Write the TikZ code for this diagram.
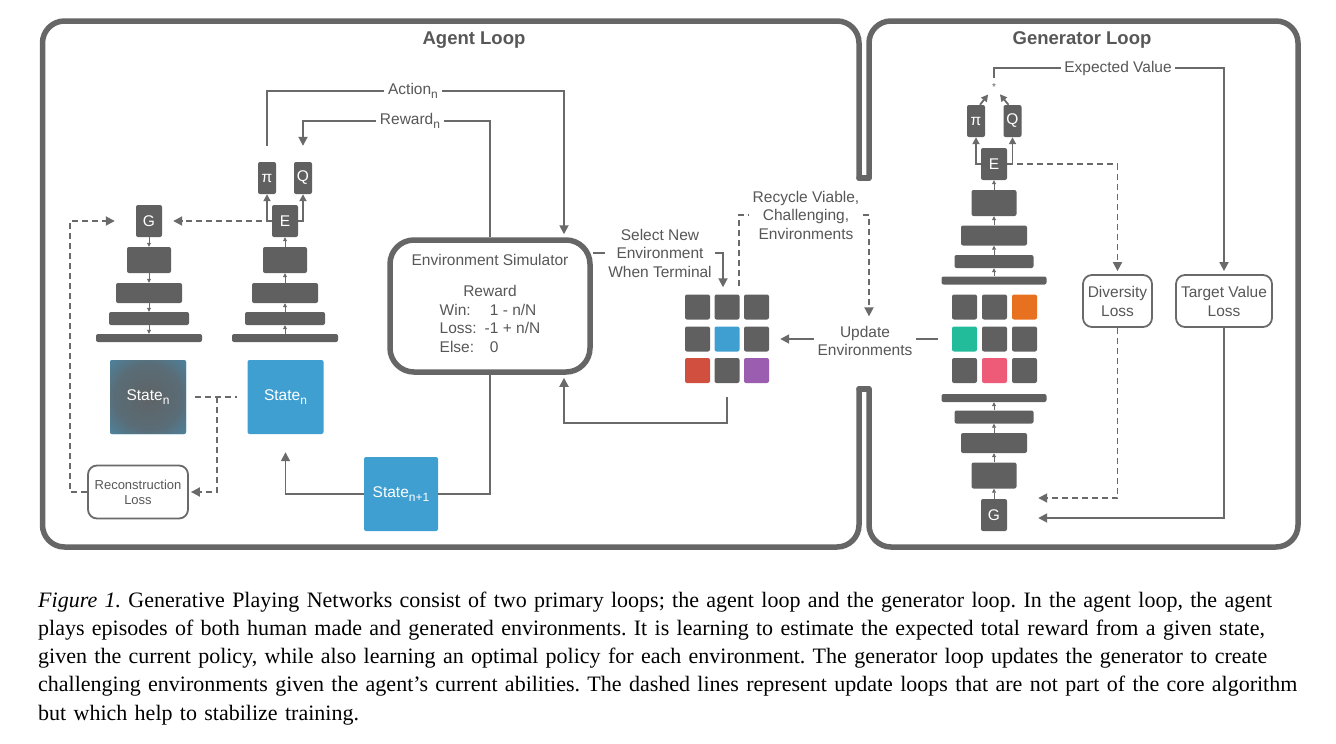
\documentclass[tikz,border=0pt]{standalone}
\usepackage{fontspec}
\setmainfont{Liberation Serif}
\setsansfont{Liberation Sans}
\usetikzlibrary{positioning,arrows.meta}
\definecolor{framegray}{HTML}{666666}
\definecolor{linegray}{HTML}{6A6A6A}
\definecolor{boxgray}{HTML}{606060}
\definecolor{textgray}{HTML}{575757}
\definecolor{stateblue}{HTML}{3F9FD1}
\definecolor{envred}{HTML}{D14F3F}
\definecolor{envpurple}{HTML}{9B5DAF}
\definecolor{envorange}{HTML}{E8711F}
\definecolor{envteal}{HTML}{23BC9B}
\definecolor{envpink}{HTML}{EE5B79}
\pgfdeclareradialshading{noisy}{\pgfpoint{0bp}{0bp}}{color(0bp)=(boxgray!95!stateblue); color(22bp)=(boxgray!80!stateblue); color(36bp)=(boxgray!45!stateblue); color(46bp)=(stateblue); color(50bp)=(stateblue)}
\newcommand{\idx}[1]{\raisebox{-4pt}{\fontsize{12}{12}\selectfont#1}}
\frenchspacing

\begin{document}
\begin{tikzpicture}[x=1pt,y=-1pt,
                  every node/.style={font=\sffamily\fontsize{15.5}{18.5}\selectfont,text=textgray},
                  panel/.style={draw=framegray,line width=5.5pt,rounded corners=22pt,line cap=round},
                  ttl/.style={font=\sffamily\bfseries\fontsize{18.5}{22}\selectfont},
                  blk/.style={fill=boxgray,rounded corners=2pt,inner sep=0pt,text=white},
                  outbox/.style={blk,minimum width=18pt,minimum height=32pt},
                  netbox/.style={blk,minimum width=26pt,minimum height=32pt},
                  cell/.style={blk,minimum size=25pt},
                  stbox/.style={fill=stateblue,rounded corners=2pt,minimum width=76pt,minimum height=74pt,text=white},
                  envbox/.style={draw=framegray,line width=5.5pt,rounded corners=24pt,minimum width=200pt,minimum height=132pt,align=center},
                  loss/.style={draw=linegray,line width=1.8pt,rounded corners=9pt,align=center,inner sep=3pt,font=\sffamily\fontsize{15.5}{19}\selectfont},
                  lbl/.style={fill=white,inner sep=3.5pt,align=center},
                  link/.style={draw=linegray,line width=1.8pt},
                  arr/.style={link,-{Triangle[length=9pt,width=9pt]}},
                  arrs/.style={link,-{Triangle[length=7pt,width=7pt]}},
                  dsh/.style={link,dash pattern=on 6pt off 4pt},
                  darr/.style={dsh,-{Triangle[length=9pt,width=9pt]}},
                  flow/.style={draw=linegray,line width=0.8pt,-{Triangle[length=4pt,width=4pt]}}]
                  \useasboundingbox (0,0) rectangle (1336,744);
                  \draw[panel] (859,178) -- (859,21) -- (42.5,21) -- (42.5,547) -- (859,547) -- (859,389);
                  \draw[panel] (869,178) -- (869,21) -- (1298,21) -- (1298,547) -- (869,547) -- (869,389);
                  \draw[panel] (859,178) -- (869,178);
                  \draw[panel] (859,389) -- (869,389);
                  \node[ttl] (agentTtl) at (474,40) {Agent Loop};
                  \node[ttl] (genTtl) at (1082,40) {Generator Loop};
                  \node[outbox] (piA) at (267,178) {π};
                  \node[outbox] (qA) at (303,178) {Q};
                  \node[netbox] (eA) at (285,221) {E};
                  \node[netbox] (gA) at (149,221) {G};
                  \node[blk,minimum width=44pt,minimum height=26pt] (dA1) at (149,260) {};
                  \node[blk,minimum width=66pt,minimum height=20pt] (dA2) at (149,293) {};
                  \node[blk,minimum width=80pt,minimum height=13pt] (dA3) at (149,318.5) {};
                  \node[blk,minimum width=106pt,minimum height=8pt] (dA4) at (149,338) {};
                  \node[blk,minimum width=44pt,minimum height=26pt] (eA1) at (285,260) {};
                  \node[blk,minimum width=66pt,minimum height=20pt] (eA2) at (285,293) {};
                  \node[blk,minimum width=80pt,minimum height=13pt] (eA3) at (285,318.5) {};
                  \node[blk,minimum width=106pt,minimum height=8pt] (eA4) at (285,338) {};
                  \node[stbox,shade,shading=noisy] (stN) at (148,397) {State\idx{n}};
                  \node[stbox] (stA) at (285.5,397) {State\idx{n}};
                  \node[stbox,minimum width=74pt] (stNext) at (401,494) {State\idx{n+1}};
                  \node[loss,font=\sffamily\fontsize{13}{15}\selectfont,minimum width=100pt,minimum height=53pt] (recon) at (138,492) {Reconstruction\\Loss};
                  \node[envbox] (env) at (490,306) {Environment Simulator\\[12.5pt]Reward\\\begin{tabular}[t]{@{}l@{\hspace{8pt}}l@{}}Win: & \hphantom{-}1 - n/N\\Loss: & -1 + n/N\\Else: & \hphantom{-}0\end{tabular}};
                  \node[lbl] (actLbl) at (413,91) {Action\idx{n}};
                  \node[lbl] (rewLbl) at (410,121) {Reward\idx{n}};
                  \node[lbl] (selLbl) at (660,253) {Select New\\Environment\\When Terminal};
                  \node[lbl] (recLbl) at (806,215) {Recycle Viable,\\Challenging,\\Environments};
                  \node[lbl] (updLbl) at (865,341) {Update\\Environments};
                  \node[cell] (cA1) at (697.5,307) {};
                  \node[cell] (cA2) at (727,307) {};
                  \node[cell] (cA3) at (756.5,307) {};
                  \node[cell] (cA4) at (697.5,339) {};
                  \node[cell,fill=stateblue] (cA5) at (727,339) {};
                  \node[cell] (cA6) at (756.5,339) {};
                  \node[cell,fill=envred] (cA7) at (697.5,370.5) {};
                  \node[cell] (cA8) at (727,370.5) {};
                  \node[cell,fill=envpurple] (cA9) at (756.5,370.5) {};
                  \draw[flow] (gA.south) -- (dA1.north);
                  \draw[flow] (dA1.south) -- (dA2.north);
                  \draw[flow] (dA2.south) -- (dA3.north);
                  \draw[flow] (dA3.south) -- (dA4.north);
                  \draw[flow] (eA4.north) -- (eA3.south);
                  \draw[flow] (eA3.north) -- (eA2.south);
                  \draw[flow] (eA2.north) -- (eA1.south);
                  \draw[flow] (eA1.north) -- (eA.south);
                  \draw[arrs] (eA.west) -| (piA.south);
                  \draw[arrs] (eA.east) -| (qA.south);
                  \draw[darr,shorten >=11pt] (eA.west) -- (gA.east);
                  \draw[link,shorten <=16pt] (piA.north) |- (actLbl.west);
                  \draw[arr,shorten >=3pt] (actLbl.east) -| ([xshift=74pt]env.north);
                  \draw[link] (env.north) |- (rewLbl.east);
                  \draw[arr,shorten >=16pt] (rewLbl.west) -| (qA.north);
                  \draw[link] (env.south) |- (stNext.east);
                  \draw[arr,shorten >=18pt] (stNext.west) -| (stA.south);
                  \draw[dsh,shorten <=9pt,shorten >=10pt] (stN.east) -- (stA.west);
                  \coordinate (split) at (217,397);
                  \draw[darr,shorten >=2pt] (split) |- (recon.east);
                  \draw[darr,shorten >=21pt] (recon.west) -- ++(-17,0) |- (gA.west);
                  \draw[link] (env.east |- selLbl.west) -- (selLbl.west);
                  \draw[arr,shorten >=7pt] (selLbl.east) -| ([xshift=-4pt]cA2.north);
                  \draw[arr,shorten >=3pt] ([yshift=-14pt]cA8.south) -- ++(0,26) -| ([xshift=74pt]env.south);
                  \draw[dsh] ([shift={(12,-8)}]cA2.north) |- (recLbl.west);
                  \draw[darr,shorten >=6pt] (recLbl.east) -| ([xshift=4pt]updLbl.north);
                  \draw[arr,shorten >=11pt] (updLbl.west |- cA6) -- (cA6.east);
                  \node[outbox] (piG) at (976,121) {π};
                  \node[outbox] (qG) at (1012.5,121) {Q};
                  \node[netbox] (eG) at (994,164) {E};
                  \node[blk,minimum width=45pt,minimum height=26pt] (gb1) at (994,203) {};
                  \node[blk,minimum width=66pt,minimum height=20pt] (gb2) at (994,235.5) {};
                  \node[blk,minimum width=79pt,minimum height=13pt] (gb3) at (994,261.5) {};
                  \node[blk,minimum width=105pt,minimum height=8pt] (gb4) at (994,280.5) {};
                  \node[cell] (cG1) at (964.5,307) {};
                  \node[cell] (cG2) at (994.5,307) {};
                  \node[cell,fill=envorange] (cG3) at (1024.5,307) {};
                  \node[cell,fill=envteal] (cG4) at (964.5,339) {};
                  \node[cell] (cG5) at (994.5,339) {};
                  \node[cell] (cG6) at (1024.5,339) {};
                  \node[cell] (cG7) at (964.5,370.5) {};
                  \node[cell,fill=envpink] (cG8) at (994.5,370.5) {};
                  \node[cell] (cG9) at (1024.5,370.5) {};
                  \node[blk,minimum width=105pt,minimum height=8pt] (gb5) at (994,398) {};
                  \node[blk,minimum width=79pt,minimum height=13pt] (gb6) at (994,417) {};
                  \node[blk,minimum width=66pt,minimum height=20pt] (gb7) at (994,443) {};
                  \node[blk,minimum width=45pt,minimum height=26pt] (gb8) at (994,475.5) {};
                  \node[netbox] (gG) at (994,515) {G};
                  \node[inner sep=0pt,text=boxgray,font=\sffamily\fontsize{10}{10}\selectfont] (star) at (994,87) {*};
                  \node[lbl] (expLbl) at (1118,68) {Expected Value};
                  \node[loss,minimum width=69pt,minimum height=52pt] (div) at (1117.5,301) {Diversity\\Loss};
                  \node[loss,minimum width=96pt,minimum height=52pt] (tgt) at (1224,301) {Target Value\\Loss};
                  \draw[flow] (gG.north) -- (gb8.south);
                  \draw[flow] (gb8.north) -- (gb7.south);
                  \draw[flow] (gb7.north) -- (gb6.south);
                  \draw[flow] (gb6.north) -- (gb5.south);
                  \draw[flow] (gb4.north) -- (gb3.south);
                  \draw[flow] (gb3.north) -- (gb2.south);
                  \draw[flow] (gb2.north) -- (gb1.south);
                  \draw[flow] (gb1.north) -- (eG.south);
                  \draw[arrs] (eG.west) -| (piG.south);
                  \draw[arrs] (eG.east) -| (qG.south);
                  \draw[arrs,shorten >=6pt] ([xshift=4pt]piG.north) -- (star);
                  \draw[arrs,shorten >=6pt] ([xshift=-4pt]qG.north) -- (star);
                  \draw[link] ([yshift=5pt]star.north) |- (expLbl.west);
                  \draw[arr,shorten >=3pt] (expLbl.east) -| (tgt.north);
                  \draw[darr,shorten >=3pt] (eG.east) -| (div.north);
                  \draw[darr] (div.south) |- ([xshift=31pt,yshift=17pt]gG.east);
                  \draw[arr] (tgt.south) |- ([xshift=31pt,yshift=-3pt]gG.east);
                  \draw[link] ([xshift=-14pt]cG4.west) -- (updLbl.east |- cG4);
                  \node[anchor=base west,inner sep=0pt,text width=1262pt,align=left,text=black,font=\rmfamily\fontsize{22}{28.3}\selectfont] (caption) at (38,607) {\makebox[1262pt][s]{\textit{Figure 1.} Generative Playing Networks consist of two primary loops; the agent loop and the generator loop. In the agent loop, the agent}\\\makebox[1262pt][s]{plays episodes of both human made and generated environments. It is learning to estimate the expected total reward from a given state,}\\\makebox[1262pt][s]{given the current policy, while also learning an optimal policy for each environment. The generator loop updates the generator to create}\\\makebox[1262pt][s]{challenging environments given the agent’s current abilities. The dashed lines represent update loops that are not part of the core algorithm}\\but which help to stabilize training.};
              \end{tikzpicture}
\end{document}
